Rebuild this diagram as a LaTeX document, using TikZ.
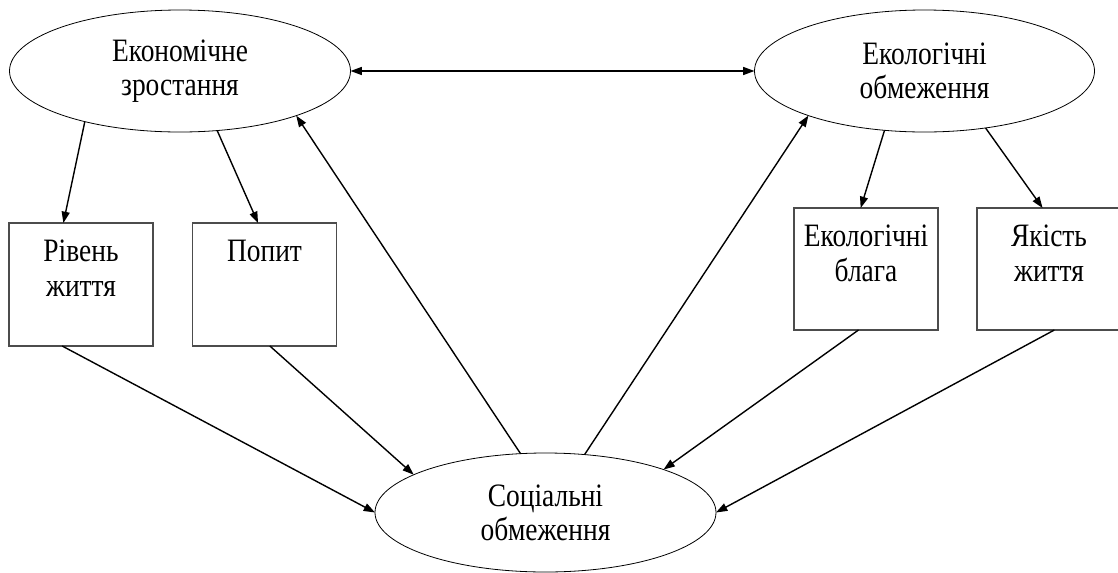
\documentclass[tikz,border=0pt]{standalone}
\usepackage{fontspec}
\setmainfont{Liberation Serif}[FakeStretch=0.84]
\usetikzlibrary{shapes.geometric,arrows.meta}
\begin{document}
\begin{tikzpicture}[x=0.75pt,y=-0.75pt,
  >={Triangle[length=8.5pt,width=6pt]},
  ell/.style={ellipse,draw,line width=0.6pt,inner sep=0pt,outer sep=0pt,align=center,font=\fontsize{24.5}{25.5}\selectfont},
  box/.style={rectangle,draw=black!70,line width=0.9pt,minimum width=108pt,inner sep=0pt,outer sep=0pt},
  lbl/.style={anchor=north,align=center,inner sep=0pt,yshift=-12.5pt,font=\fontsize{24.5}{26}\selectfont},
  con/.style={line width=1.05pt,->},
  dcon/.style={line width=1.05pt,<->}]
\useasboundingbox (0,0) rectangle (1118,572);
\node[ell,minimum width=255.75pt,minimum height=91.5pt] (e1) at (180,71) {Економічне\\зростання};
\node[ell,minimum width=255pt,minimum height=91.5pt] (e2) at (924.5,71) {Екологічні\\обмеження};
\node[ell,minimum width=255.75pt,minimum height=89.25pt] (e3) at (545.5,512.5) {Соціальні\\обмеження};
\node[box,minimum height=92.25pt] (b1) at (81,284.5) {};
\node[lbl] (t1) at (b1.north) {Рівень\\життя};
\node[box,minimum height=92.25pt] (b2) at (264.5,284.5) {};
\node[lbl] (t2) at (b2.north) {Попит};
\node[box,minimum height=91.5pt] (b3) at (866,269) {};
\node[lbl] (t3) at (b3.north) {Екологічні\\блага};
\node[box,minimum height=91.5pt] (b4) at (1049,269) {};
\node[lbl] (t4) at (b4.north) {Якість\\життя};
\draw[dcon] (e1.east) -- (e2.west);
\draw[con] (e1.208.5) -- (b1.106.3);
\draw[con] (e1.302.6) -- (b2.96);
\draw[con] (e3.113.4) -- (e1.339.2);
\draw[con] (b1.253.7) -- (e3.west);
\draw[con] (b2.275.1) -- (e3.164.2);
\draw[con] (e3.56.4) -- (e2.201.5);
\draw[con] (e2.236.3) -- (b3.95.6);
\draw[con] (e2.317.6) -- (b4.96.5);
\draw[con] (b3.263.5) -- (e3.20.9);
\draw[con] (b4.275.6) -- (e3.east);
\end{tikzpicture}
\end{document}
